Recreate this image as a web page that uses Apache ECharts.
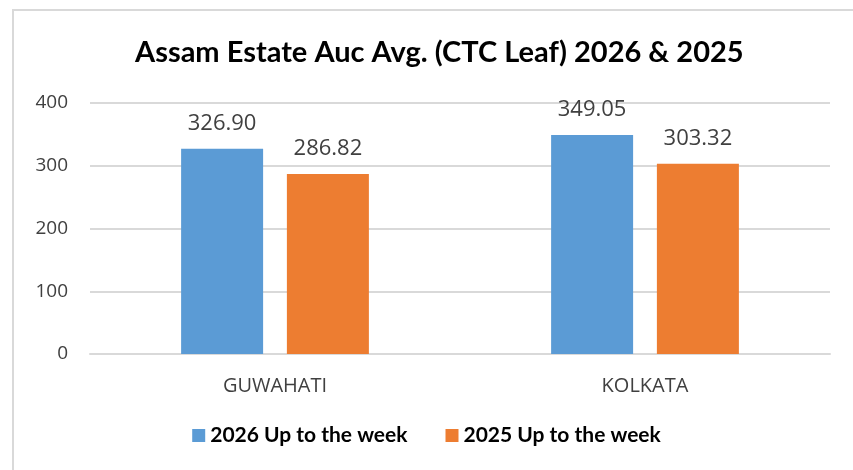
<!DOCTYPE html>
<html>
<head>
<meta charset="utf-8">
<script src="https://cdn.jsdelivr.net/npm/echarts@6/dist/echarts.min.js"></script>
<style>
  html, body { margin: 0; padding: 0; background: #fff; }
  #chart { width: 853px; height: 470px; }
</style>
</head>
<body>
<div id="chart"></div>
<script>
  var categories = ['GUWAHATI', 'KOLKATA'];
  var seriesNames = ['2026 Up to the week', '2025 Up to the week'];
  var values2026 = [326.90, 349.05];
  var values2025 = [286.82, 303.32];
  var yTicks = { min: 0, max: 400, interval: 100 };

  var chart = echarts.init(document.getElementById('chart'));

  // shared label style for the value labels above bars
  var barLabel = {
    show: true,
    position: 'top',
    distance: 14,
    fontSize: 22,
    color: '#404040',
    fontFamily: 'Open Sans',
    formatter: function (p) { return p.value.toFixed(2); }
  };

  chart.setOption({
    animation: false,
    graphic: [{
      type: 'rect',
      shape: { x: 13, y: 10, width: 900, height: 500 },
      style: { fill: 'none', stroke: '#d9d9d9', lineWidth: 2 },
      silent: true
    }],
    title: {
      text: 'Assam Estate Auc Avg. (CTC Leaf) 2026 & 2025',
      left: 130,
      top: 33,
      textStyle: { fontFamily: 'Lato', fontWeight: 'bold', fontSize: 29, color: '#000' }
    },
    legend: {
      bottom: 19,
      left: 'center',
      itemWidth: 13,
      itemHeight: 13,
      itemGap: 38,
      icon: 'rect',
      textStyle: { fontFamily: 'Lato', fontWeight: 'bold', fontSize: 21, color: '#000' },
      data: seriesNames
    },
    grid: { left: 90, right: 23, top: 103, bottom: 116 },
    xAxis: {
      type: 'category',
      data: categories,
      axisTick: { show: false },
      axisLine: { lineStyle: { color: '#d9d9d9', width: 2 } },
      axisLabel: { fontSize: 20, color: '#404040', fontFamily: 'Open Sans', margin: 22 }
    },
    yAxis: {
      type: 'value',
      min: yTicks.min,
      max: yTicks.max,
      interval: yTicks.interval,
      axisLine: { show: false },
      axisTick: { show: false },
      splitLine: { lineStyle: { color: '#d9d9d9', width: 2 } },
      axisLabel: { fontSize: 19, color: '#404040', fontFamily: 'Open Sans', margin: 22 }
    },
    series: [
      {
        name: seriesNames[0],
        type: 'bar',
        data: values2026,
        barWidth: 82,
        barGap: '29%',
        itemStyle: { color: '#5B9BD5' },
        label: barLabel
      },
      {
        name: seriesNames[1],
        type: 'bar',
        data: values2025,
        barWidth: 82,
        itemStyle: { color: '#ED7D31' },
        label: barLabel
      }
    ]
  });
</script>
</body>
</html>
